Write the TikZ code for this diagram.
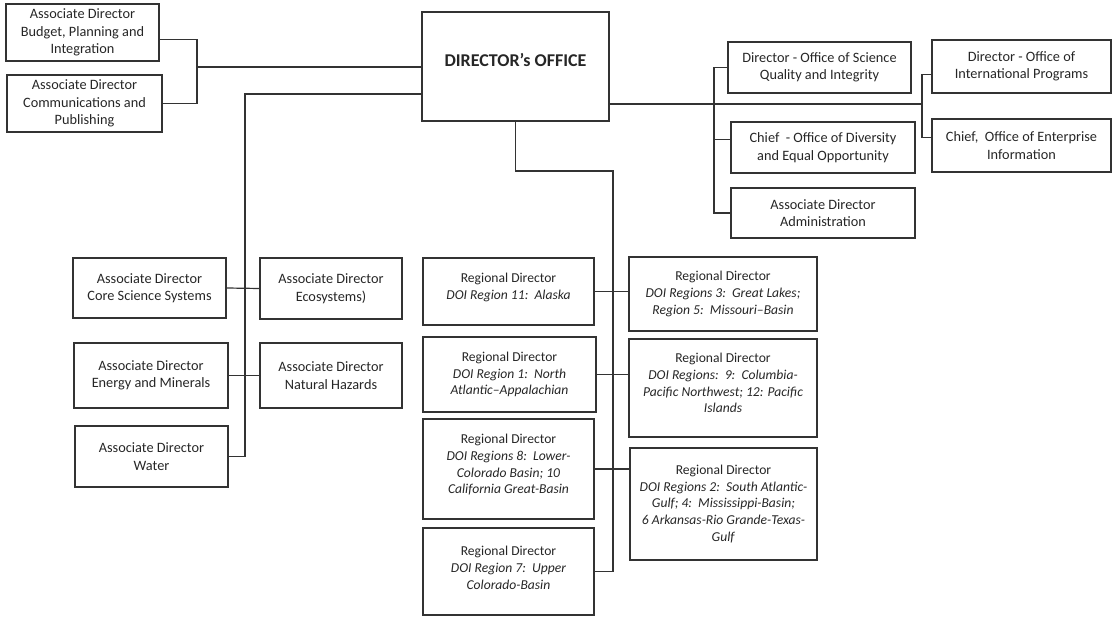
\documentclass[tikz,border=0pt]{standalone}
\usepackage{fontspec}
\setmainfont{Carlito}
\tikzset{
  orgbox/.style={draw=black!80, line width=1.2pt, rectangle, align=center, inner sep=2pt,
    font=\fontsize{14.3}{17.5}\selectfont, text=black!85},
  regbox/.style={orgbox, font=\fontsize{13.6}{16.8}\selectfont},
  link/.style={draw=black!80, line width=1.2pt}
}
\begin{document}
\begin{tikzpicture}[x=1pt,y=-1pt]
  \useasboundingbox (0,0) rectangle (1112,617);
  % top row
  \node[orgbox, minimum width=153, minimum height=57] (bpi) at (82.5,32.5) {Associate Director\\Budget, Planning and\\Integration};
  \node[orgbox, minimum width=155, minimum height=57] (cp) at (84.5,103.5) {Associate Director\\Communications and\\Publishing};
  \node[orgbox, minimum width=187, minimum height=109, text depth=14pt] (dir) at (515.5,66.5) {\fontsize{18}{20}\selectfont\bfseries DIRECTOR’s OFFICE};
  \node[orgbox, minimum width=183, minimum height=51] (sqi) at (819.5,67.5) {Director\ - Office of Science\\Quality and Integrity};
  \node[orgbox, minimum width=184, minimum height=51] (div) at (823,147.5) {Chief\ \ - Office of Diversity\\and Equal Opportunity};
  \node[orgbox, minimum width=184, minimum height=50] (adm) at (823,213) {Associate Director\\Administration};
  \node[orgbox, minimum width=179, minimum height=53] (intl) at (1021.5,66.5) {Director\ - Office of\\International\ Programs};
  \node[orgbox, minimum width=179, minimum height=53] (ent) at (1021.5,145.5) {Chief,\ \ Office of Enterprise\\Information};
  % science programs
  \node[orgbox, minimum width=153, minimum height=60] (core) at (149.5,288) {Associate Director\\Core Science Systems};
  \node[orgbox, minimum width=142, minimum height=61] (eco) at (331,288.5) {Associate Director\\Ecosystems)};
  \node[orgbox, minimum width=154, minimum height=65] (energy) at (151,375.5) {Associate Director\\Energy and Minerals};
  \node[orgbox, minimum width=142, minimum height=65] (haz) at (331,375.5) {Associate Director\\Natural Hazards};
  \node[orgbox, minimum width=153, minimum height=61] (water) at (151.5,456.5) {Associate Director\\Water};
  % regions
  \node[regbox, minimum width=171, minimum height=67, text depth=10pt] (alaska) at (508.5,291.5) {Regional Director\\\textit{DOI Region 11:\ \ Alaska}};
  \node[regbox, minimum width=188, minimum height=74] (glakes) at (723,294) {Regional Director\\\textit{DOI Regions 3:\ \ Great Lakes;}\\\textit{Region 5:\ \ Missouri–Basin}};
  \node[regbox, minimum width=173, minimum height=75] (natl) at (509.5,374.5) {Regional Director\\\textit{DOI Region 1:\ \ North}\\\textit{Atlantic–Appalachian}};
  \node[regbox, minimum width=188, minimum height=98, text depth=10pt] (colum) at (723,388) {Regional Director\\\textit{DOI Regions:\ \ 9:\ \ Columbia-}\\\textit{Pacific Northwest; 12: Pacific}\\\textit{Islands}};
  \node[regbox, minimum width=171, minimum height=100, text depth=10pt] (lowco) at (508.5,469) {Regional Director\\\textit{DOI Regions 8:\ \ Lower-}\\\textit{Colorado Basin; 10}\\\textit{California Great-Basin}};
  \node[regbox, minimum width=187, minimum height=112] (satl) at (723.5,504) {Regional Director\\\textit{DOI Regions 2:\ \ South Atlantic-}\\\textit{Gulf; 4:\ \ Mississippi-Basin;}\\\textit{6 Arkansas-Rio Grande-Texas-}\\\textit{Gulf}};
  \node[regbox, minimum width=171, minimum height=87, text depth=8pt] (upco) at (508.5,571.5) {Regional Director\\\textit{DOI Region 7:\ \ Upper}\\\textit{Colorado-Basin}};
  % junctions
  \coordinate (lj) at (197,67);
  \coordinate (sv) at (245,94);
  \coordinate (rv) at (613,171);
  \coordinate (av) at (714,0);
  \coordinate (rj) at (922,104);
  % connectors
  \draw[link] (bpi.-5) -| (lj) |- (cp.east);
  \draw[link] (lj) -- (lj -| dir.west);
  \draw[link] (sv -| dir.west) -- (sv) |- (water.east);
  \draw[link] (core.east) -- (eco.west);
  \draw[link] (energy.east) -- (haz.west);
  \draw[link] (dir.south) |- (rv) |- (upco.east);
  \draw[link] (alaska.east) -- (alaska.east -| glakes.west);
  \draw[link] (natl.east) -- (natl.east -| colum.west);
  \draw[link] (lowco.east) -- (lowco.east -| satl.west);
  \draw[link] (rj -| dir.east) -- (rj);
  \draw[link] (sqi.west) -- (sqi.west -| av) |- (adm.west);
  \draw[link] (div.175) -- (div.175 -| av);
  \draw[link] (intl.-175) -| (rj) |- (ent.175);
\end{tikzpicture}
\end{document}
